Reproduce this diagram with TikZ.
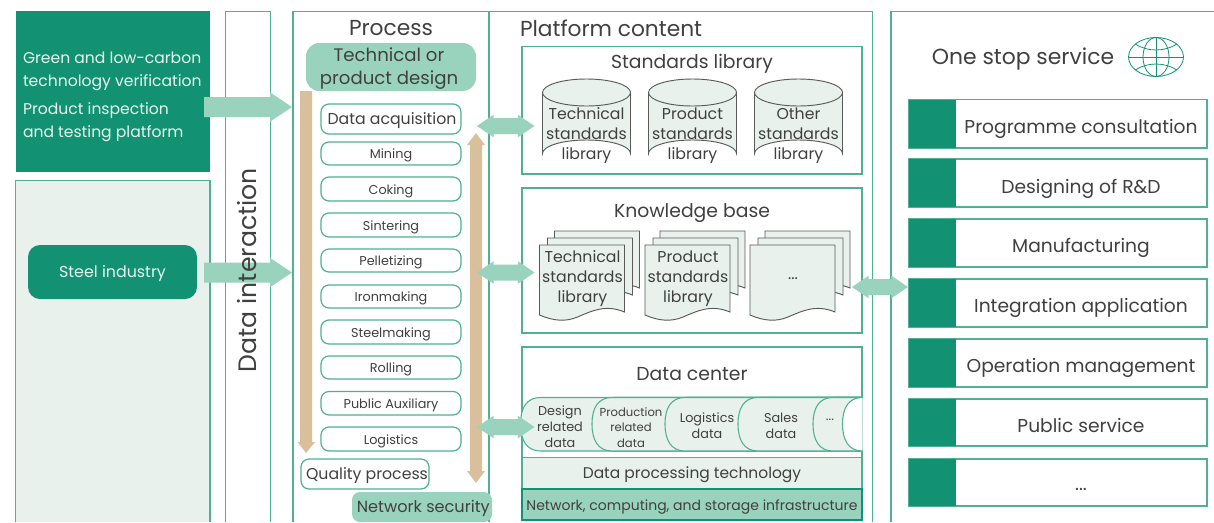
\documentclass[tikz,border=0pt]{standalone}
\usepackage{fontspec}
\setmainfont{Poppins}
\usetikzlibrary{calc}
\definecolor{dk}{HTML}{129272}
\definecolor{ln}{HTML}{4FB092}
\definecolor{lt}{HTML}{E8F1EC}
\definecolor{md}{HTML}{9AD3BD}
\definecolor{tanc}{HTML}{D9BF9B}
\definecolor{tx}{HTML}{404040}
\definecolor{gl}{HTML}{E6F5EE}
\definecolor{dl}{HTML}{5A5A5A}
\newcommand\fs[2]{\fontsize{#1pt}{#2pt}\selectfont}
\newcommand\dotstxt{...}
\tikzset{
  x=0.75pt,y=-0.75pt,
  every node/.style={text=tx,align=center,inner sep=0pt,outer sep=0pt},
  frame/.style={draw=ln,line width=0.9pt},
  solidgreen/.style={fill=dk,text=gl},
  lightbox/.style={frame,fill=lt},
  pill/.style={frame,rounded corners=6pt,fill=white},
  sm/.style={font=\fs{9.6}{12}},
  mdf/.style={font=\fs{11.8}{15}},
  title/.style={font=\fs{16.3}{18}},
  head/.style={font=\fs{14.1}{16}},
  fat/.style={fill=md,draw=none},
  tanf/.style={fill=tanc,draw=none},
  paper/.style={draw=dl,line width=0.7pt,fill=lt,line join=miter},
  tabline/.style={draw=ln,line width=0.8pt},
  inbox/.style={font=\fs{11.8}{15}},
}
% named rectangle from two corners in reference pixels
\newcommand\bx[7]{%
  \pgfmathsetmacro\bxw{(#4-#2)*0.75}\pgfmathsetmacro\bxh{(#5-#3)*0.75}%
  \node[#6,minimum width=\bxw pt,minimum height=\bxh pt] (#1) at ({(#2+#4)/2},{(#3+#5)/2}) {\raisebox{-1.4pt}[\height][\depth]{#7}};}
% block arrows between two named coordinates on one line
\newcommand\rarrow[2]{\fill[fat] let \p1=(#1),\p2=(#2) in
  (\x1,\y1+7.5pt) -- (\x2-16.5pt,\y1+7.5pt) -- (\x2-16.5pt,\y1+11pt) -- (\x2,\y1) -- (\x2-16.5pt,\y1-11pt) -- (\x2-16.5pt,\y1-7.5pt) -- (\x1,\y1-7.5pt) -- cycle;}
\newcommand\darrow[2]{\fill[fat] let \p1=(#1),\p2=(#2) in
  (\x1,\y1) -- (\x1+12.5pt,\y1+8.5pt) -- (\x1+12.5pt,\y1+6pt) -- (\x2-12.5pt,\y1+6pt) -- (\x2-12.5pt,\y1+8.5pt) -- (\x2,\y1) -- (\x2-12.5pt,\y1-8.5pt) -- (\x2-12.5pt,\y1-6pt) -- (\x1+12.5pt,\y1-6pt) -- (\x1+12.5pt,\y1-8.5pt) -- cycle;}
\newcommand\cyl[3]{%
  \draw[paper] (#1,92.5) -- (#1,153.5) arc[start angle=180,end angle=360,x radius=44,y radius=13.5] -- (#1+88,92.5);
  \draw[paper] (#1+44,92.5) ellipse[x radius=44,y radius=13.5];
  \node[inbox] (#2) at (#1+44,136) {#3};}
\newcommand\docs[3]{%
  \draw[paper] (#1+15,231) -- (#1+100,231) -- (#1+100,288) .. controls (#1+85,282) and (#1+70,282) .. (#1+15,292) -- cycle;
  \draw[paper] (#1+8,238) -- (#1+93,238) -- (#1+93,295) .. controls (#1+78,289) and (#1+63,289) .. (#1+8,299) -- cycle;
  \draw[paper] (#1,245) -- (#1,315) .. controls (#1+14,321) and (#1+26,322) .. (#1+38,317) .. controls (#1+52,311) and (#1+66,304) .. (#1+85,312) -- (#1+85,245) -- cycle;
  \node[inbox] (#2) at (#1+43,279) {#3};}
\newcommand\dtab[2][lt]{%
  \filldraw[tabline,fill=#1] (862,397.5) -- (#2+20,397.5) .. controls (#2+6,397.5) and (#2,408) .. (#2,424) .. controls (#2,440) and (#2+6,451) .. (#2+20,451) -- (862,451);}
\begin{document}
\begin{tikzpicture}
\useasboundingbox (0,0) rectangle (1214,522);
\fill[white] (0,0) rectangle (1214,522);
% left column
\bx{green}{16}{11}{210}{172}{solidgreen}{}
\node[anchor=west,font=\fs{11.7}{17.3},text=gl,align=left] (gt1) at (23,71) {Green and low-carbon\\technology verification};
\node[anchor=west,font=\fs{11.7}{17.3},text=gl,align=left] (gt2) at (23,122) {Product inspection\\and testing platform};
\path[fill=lt] (15.5,180) rectangle (210,522);
\draw[frame] (15.5,522) -- (15.5,180.5) -- (210,180.5) -- (210,522);
\bx{steel}{28}{245}{197}{299}{solidgreen,rounded corners=9pt,font=\fs{11.9}{15}}{Steel industry}
% data interaction
\draw[frame] (225.5,522) -- (225.5,11.5) -- (270.5,11.5) -- (270.5,522);
% process + platform frames
\draw[frame] (293,522) -- (293,11.5) -- (872.5,11.5) -- (872.5,522);
\draw[frame] (489,11.5) -- (489,522);
\node[title] (proc) at (391,28.5) {Process};
\node[title,anchor=west] (plat) at (520,28.5) {Platform content};
\bx{design}{306}{43}{476}{91}{fill=md,rounded corners=10pt}{}
\node[font=\fs{13.6}{17}] (designt) at (389,68.5) {Technical or\\product design};
\bx{acq}{321}{104}{461}{134}{pill,mdf}{\hspace*{1.5pt}Data acquisition}
\bx{mining}{321}{142}{461}{165}{pill,sm}{Mining}
\bx{coking}{321}{177}{461}{201}{pill,sm}{Coking}
\bx{sinter}{321}{213}{461}{237}{pill,sm}{Sintering}
\bx{pellet}{321}{249}{461}{272}{pill,sm}{Pelletizing}
\bx{iron}{321}{285}{461}{308}{pill,sm}{Ironmaking}
\bx{steelm}{321}{320}{461}{344}{pill,sm}{Steelmaking}
\bx{roll}{321}{356}{461}{379}{pill,sm}{Rolling}
\bx{pub}{321}{391.5}{461}{415}{pill,sm}{Public Auxiliary}
\bx{logi}{321}{427}{461}{451}{pill,sm}{Logistics}
\bx{qual}{301}{459}{429}{489}{pill,mdf}{\hspace*{3pt}Quality process}
\bx{netsec}{352}{492}{492}{522}{fill=md,rounded corners=6pt,font=\fs{12.1}{15}}{\hspace*{2pt}Network security}
% tan arrows
\coordinate (td) at (306,91);
\coordinate (tdb) at (306,453);
\fill[tanf] (td) ++(-6,0) -- ++(12,0) -- (312,442) -- (315,442) -- (tdb) -- (297.5,442) -- (300,442) -- cycle;
\coordinate (ut) at (476,133);
\coordinate (ub) at (476,483);
\fill[tanf] (ut) -- (485,145) -- (482,145) -- (482,471) -- (485,471) -- (ub) -- (467,471) -- (470,471) -- (470,145) -- (467,145) -- cycle;
% standards library
\bx{stdbox}{522}{46.5}{862}{174}{frame}{}
\node[head] (stdt) at (692,63.5) {Standards library};
\cyl{542.5}{cy1}{Technical\\standards\\library}
\cyl{648.5}{cy2}{Product\\standards\\library}
\cyl{754.5}{cy3}{Other\\standards\\library}
% knowledge base
\bx{kbbox}{522}{188}{862}{333}{frame}{}
\node[head] (kbt) at (692,213.5) {Knowledge base};
\docs{539.5}{d1}{Technical\\standards\\library}
\docs{645}{d2}{Product\\standards\\library}
\docs{750}{d3}{\dotstxt}
% data center
\bx{dcbox}{522}{347}{862}{520}{frame}{}
\node[head] (dct) at (692,374) {Data center};
\dtab{520.5}
\dtab{594.5}\dtab{592}
\dtab{667.5}\dtab{665}
\dtab{740.5}\dtab{738}
\dtab{815.5}\dtab{813}
\dtab[white]{842.5}
\node[font=\fs{9.6}{11.8}] (t1) at (560,426.5) {Design\\related\\data};
\node[font=\fs{8.7}{11.8}] (t2) at (631,427.5) {Production\\related\\data};
\node[font=\fs{9.6}{11.8}] (t3) at (707,425.5) {Logistics\\data};
\node[font=\fs{9.6}{11.8}] (t4) at (781,426) {Sales\\data};
\node[font=\fs{9.6}{11.8}] (t5) at (830,420) {\dotstxt};
\bx{dpt}{522}{457.5}{862}{489}{lightbox,font=\fs{11.6}{14}}{Data processing technology}
\bx{infra}{522}{489}{862}{520}{fill=md,draw=dk,line width=0.9pt,font=\fs{10.5}{14}}{\raisebox{-0.8pt}[\height][\depth]{Network, computing, and storage infrastructure}}
% one stop service
\draw[frame] (891,522) -- (891,11.5) -- (1214,11.5);
\node[font=\fs{16.4}{19}] (oss) at (1023,59) {One stop service};
\begin{scope}[draw=dk,line width=0.6pt]
\coordinate (gc) at (1156,57);
\draw (gc) ellipse[x radius=27.5,y radius=19.5];
\draw (gc) ellipse[x radius=13,y radius=19.5];
\draw (1128.5,57) -- (1183.5,57);
\draw (1156,37.5) -- (1156,76.5);
\draw (1135,44) .. controls (1148,52) and (1164,52) .. (1177,44);
\draw (1135,70) .. controls (1148,62) and (1164,62) .. (1177,70);
\end{scope}
\foreach \n/\a/\b/\off/\lbl in {r1/99.5/148/5/Programme consultation,r2/159/207/5.5/Designing of R\&D,r3/219/267/5/Manufacturing,r4/279/327/4.5/Integration application,r5/339/387/4.5/Operation management,r6/399/446/3/Public service,r7/459/506/7/\dotstxt}{
  \bx{\n}{909}{\a}{1207}{\b}{frame}{}
  \bx{\n h}{909}{\a}{956}{\b}{fill=dk}{}
  \node[font=\fs{14}{16}] (\n t) at (1081,{(\a+\b)/2+\off}) {\lbl};
}
% block arrows
\coordinate (a1) at (204,107); \coordinate (a1e) at (292,107);
\coordinate (a2) at (204,272.5); \coordinate (a2e) at (292,272.5);
\rarrow{a1}{a1e}
\rarrow{a2}{a2e}
\coordinate (b1) at (477,126); \coordinate (b1e) at (534.5,126);
\coordinate (b2) at (477,272.5); \coordinate (b2e) at (534.5,272.5);
\coordinate (b3) at (477,427); \coordinate (b3e) at (534.5,427);
\coordinate (b4) at (852,287); \coordinate (b4e) at (908,287);
\darrow{b1}{b1e}
\darrow{b2}{b2e}
\darrow{b3}{b3e}
\darrow{b4}{b4e}
\node[rotate=90,font=\fs{18.9}{24}] (di) at (247,270) {Data interaction};
\end{tikzpicture}
\end{document}
